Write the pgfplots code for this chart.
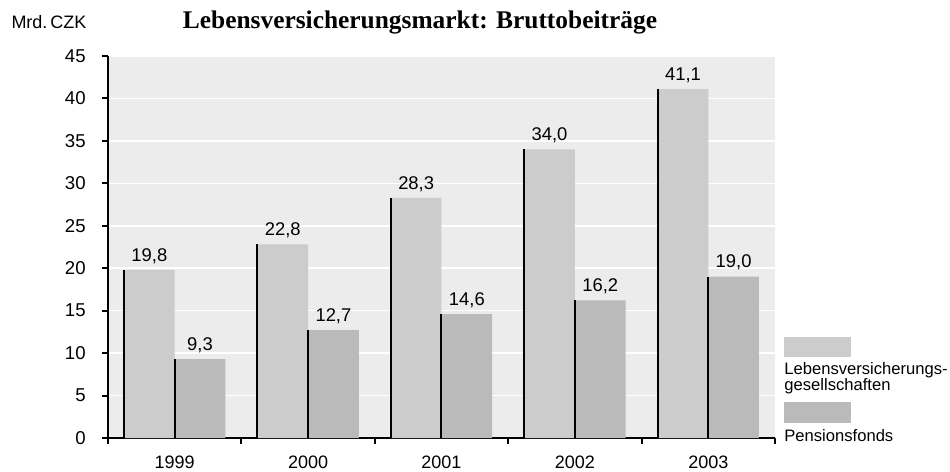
\documentclass[border=0pt]{standalone}
\usepackage{pgfplots}
\usepackage{pgfplotstable}
\pgfplotsset{compat=1.18}
\usepackage{fontspec}
\setmainfont{Liberation Sans}
\newfontfamily\titlefont{Liberation Serif}
\definecolor{bgc}{RGB}{236,236,236}
\definecolor{lightbar}{RGB}{204,204,204}
\definecolor{darkbar}{RGB}{186,186,186}
\pgfplotstableread{
x v
0 19.8
1 22.8
2 28.3
3 34.0
4 41.1
}\lebens
\pgfplotstableread{
x v
0 9.3
1 12.7
2 14.6
3 16.2
4 19.0
}\pension
\begin{document}
\fontsize{9pt}{10.5pt}\selectfont
\begin{tikzpicture}
\path[use as bounding box] (0,0) rectangle (475pt,236pt);
\begin{axis}[
  at={(54pt,17pt)}, anchor=south west,
  scale only axis, width=333.5pt, height=191pt,
  xmin=-0.5, xmax=4.5, ymin=0, ymax=45,
  axis x line*=bottom, axis y line*=left,
  axis line style={line width=1pt, black, -},
  axis background/.style={fill=bgc},
  ytick={0,5,...,45},
  xtick={-0.5,0.5,1.5,2.5,3.5,4.5},
  xticklabels={},
  extra x ticks={0,1,2,3,4},
  extra x tick labels={1999,2000,2001,2002,2003},
  extra x tick style={major tick length=0pt, xticklabel style={yshift=-6pt}},
  tick align=outside,
  major tick length=3pt,
  tick style={line width=1pt, black},
  ymajorgrids, grid style={white, line width=0.8pt},
  ticklabel style={font=\fontsize{9pt}{10pt}\selectfont},
  yticklabel style={xshift=-5pt, font=\fontsize{9.3pt}{10pt}\selectfont},
  /pgf/number format/assume math mode=true,
  bar width=0.38,
  nodes near coords style={font=\fontsize{9.2pt}{10pt}\selectfont},
  /pgf/number format/use comma,
  /pgf/number format/fixed,
  /pgf/number format/fixed zerofill,
  /pgf/number format/precision=1,
  yticklabel={\pgfmathprintnumber[precision=0,fixed zerofill=false]{\tick}},
]
\addplot[ybar, bar shift=-0.19, fill=lightbar, draw=none, nodes near coords,
  every node near coord/.append style={/tikz/xshift=-12.67pt}] table[x=x,y=v]{\lebens};
\addplot[ybar, bar shift=0.19, fill=darkbar, draw=none, nodes near coords,
  every node near coord/.append style={/tikz/xshift=12.67pt}] table[x=x,y=v]{\pension};
\addplot[ycomb, black, line width=1pt, mark=none] table[x expr=\thisrow{x}-0.38,y=v]{\lebens};
\addplot[ycomb, black, line width=1pt, mark=none] table[x expr=\thisrow{x},y=v]{\pension};
\end{axis}
\node[font=\titlefont\bfseries\fontsize{12.7pt}{14pt}\selectfont] at (210pt,225pt) {Lebensversicherungsmarkt: Bruttobeiträge};
\node[font=\fontsize{9pt}{10pt}\selectfont] at (24.5pt,225pt) {Mrd.\,CZK};
\fill[lightbar] (392pt,57.5pt) rectangle (425.5pt,67.5pt);
\fill[darkbar] (392pt,24.5pt) rectangle (425.5pt,35pt);
\node[anchor=north west, inner sep=0pt, align=left, font=\fontsize{8.3pt}{8pt}\selectfont] at (392pt,55pt) {Lebensversicherungs-\\gesellschaften};
\node[anchor=north west, inner sep=0pt, align=left, font=\fontsize{8.3pt}{8pt}\selectfont] at (392pt,21.5pt) {Pensionsfonds};
\end{tikzpicture}
\end{document}
